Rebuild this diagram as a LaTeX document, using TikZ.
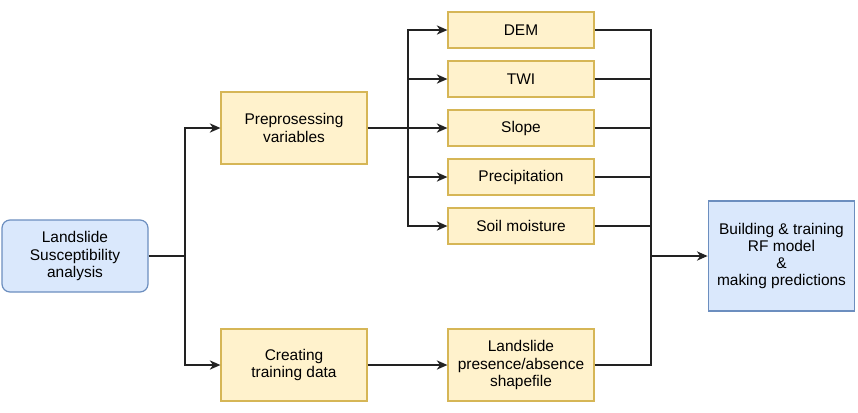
\documentclass[tikz,border=0pt]{standalone}
\usepackage{fontspec}
\setmainfont{Liberation Sans}
\usetikzlibrary{arrows.meta}
\definecolor{yfill}{HTML}{FFF2CC}
\definecolor{ydraw}{HTML}{D6B656}
\definecolor{bfill}{HTML}{DAE8FC}
\definecolor{bdraw}{HTML}{6C8EBF}
\definecolor{linec}{HTML}{222222}
\tikzset{
  ybox/.style={draw=ydraw,fill=yfill,line width=0.9pt,align=center,minimum width=109.5pt,inner sep=2pt},
  bbox/.style={draw=bdraw,fill=bfill,line width=0.9pt,align=center,inner sep=2pt},
  conn/.style={draw=linec,line width=0.9pt},
  arr/.style={conn,-{Stealth[length=8pt,width=7pt,inset=2.5pt]}}
}
\begin{document}
\begin{tikzpicture}[x=0.75pt,y=-0.75pt,font=\fontsize{11.6}{12.9}\selectfont]
			\useasboundingbox (0,0) rectangle (858,412);
			% nodes
			\node[bbox,rounded corners=6pt,minimum width=109.5pt,minimum height=54pt] (lsa) at (75,256) {Landslide\\Susceptibility\\analysis};
			\node[ybox,minimum height=54pt] (pre) at (294,128) {Preprosessing\\variables};
			\node[ybox,minimum height=54pt] (cre) at (294,365) {Creating\\training data};
			\node[ybox,minimum height=54pt] (lps) at (521,365) {Landslide\\presence/absence\\shapefile};
			\foreach \n/\t/\y in {dem/DEM/30,twi/TWI/79,slope/Slope/128,prec/Precipitation/177,soil/Soil moisture/226}
				\node[ybox,minimum height=27pt] (\n) at (521,\y) {\t};
			\node[bbox,minimum width=110pt,minimum height=82.5pt] (rf) at (781.5,256) {Building \& training\\RF model\\\&\\making predictions};
			% split points
			\coordinate (s1) at (185,256);
			\coordinate (s2) at (408,128);
			\coordinate (s3) at (651,256);
			% connectors
			\draw[conn] (lsa) -- (s1);
			\draw[arr] (s1) |- (pre);
			\draw[arr] (s1) |- (cre);
			\draw[arr] (pre) -- (slope);
			\foreach \n in {dem,twi,prec,soil} \draw[arr] (s2) |- (\n);
			\draw[arr] (cre) -- (lps);
			\foreach \n in {dem,twi,slope,prec,soil,lps} \draw[conn] (\n) -| (s3);
			\draw[arr] (s3) -- (rf);
		\end{tikzpicture}
\end{document}
